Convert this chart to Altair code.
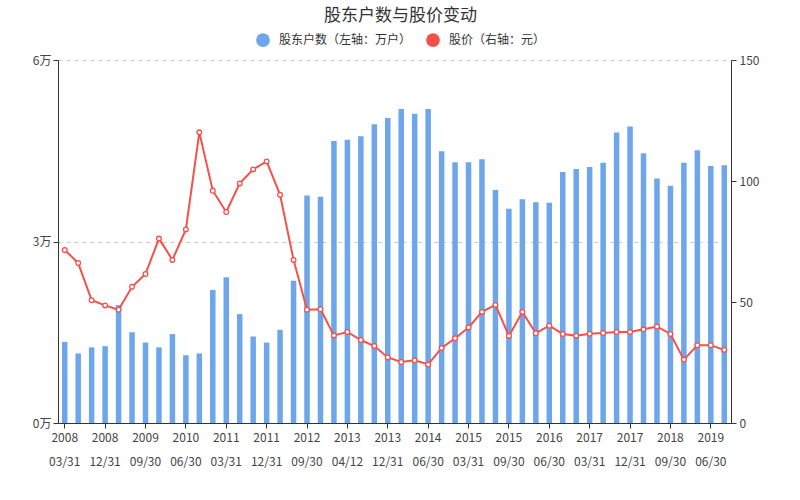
import altair as alt
import pandas as pd

dates = [
    "2008-03-31", "2008-06-30", "2008-09-30", "2008-12-31",
    "2009-03-31", "2009-06-30", "2009-09-30", "2009-12-31",
    "2010-03-31", "2010-06-30", "2010-09-30", "2010-12-31",
    "2011-03-31", "2011-06-30", "2011-09-30", "2011-12-31",
    "2012-03-31", "2012-06-30", "2012-09-30", "2012-12-31",
    "2013-03-31", "2013-04-12", "2013-06-30", "2013-09-30",
    "2013-12-31", "2014-03-31", "2014-05-31", "2014-06-30",
    "2014-09-30", "2014-12-31", "2015-03-31", "2015-06-30",
    "2015-07-31", "2015-09-30", "2015-12-31", "2016-03-31",
    "2016-06-30", "2016-09-30", "2016-12-31", "2017-03-31",
    "2017-06-30", "2017-09-30", "2017-12-31", "2018-03-31",
    "2018-06-30", "2018-09-30", "2018-12-31", "2019-03-31",
    "2019-06-30", "2019-09-30",
]

holders = [
    1.34, 1.15, 1.25, 1.27, 1.95, 1.50, 1.33, 1.25, 1.47, 1.12,
    1.15, 2.20, 2.41, 1.80, 1.43, 1.33, 1.54, 2.35, 3.76, 3.74,
    4.66, 4.68, 4.74, 4.94, 5.04, 5.19, 5.11, 5.19, 4.49, 4.31,
    4.31, 4.36, 3.85, 3.54, 3.70, 3.65, 3.64, 4.15, 4.20, 4.23,
    4.30, 4.80, 4.90, 4.46, 4.04, 3.92, 4.30, 4.51, 4.25, 4.26,
]

price = [
    71.5, 66.1, 50.7, 48.6, 46.8, 56.3, 61.6, 76.2, 67.4, 80.0,
    120.1, 96.0, 87.2, 99.0, 104.8, 108.1, 94.3, 67.4, 46.8, 47.0,
    36.2, 37.6, 34.3, 31.8, 27.1, 25.2, 25.9, 24.2, 31.0, 35.0,
    39.5, 45.9, 48.8, 36.0, 45.9, 37.1, 40.2, 36.8, 36.1, 36.9,
    37.2, 37.6, 37.6, 38.7, 39.9, 36.8, 26.2, 32.1, 32.1, 30.2,
]

series_names = ["股东户数（左轴：万户）", "股价（右轴：元）"]
colors = ["#6ea6ec", "#f5514a"]

df = pd.DataFrame({"date": dates, "holders": holders, "price": price})
df["series"] = series_names[0]

font = "Noto Sans CJK SC"
label_dates = dates[::3]

x_enc = alt.X(
    "date:N",
    sort=dates,
    scale=alt.Scale(paddingInner=0, paddingOuter=0),
    axis=alt.Axis(
        title=None,
        values=label_dates,
        labelExpr="[slice(datum.value,0,4), replace(slice(datum.value,5),'-','/')]",
        labelAngle=0,
        labelLineHeight=24,
        labelBaseline="top",
        labelPadding=4,
        tickSize=5,
        tickColor="#333",
        domainColor="#333",
        labelColor="#444",
        labelFontSize=12,
        labelFont=font,
        grid=False,
    ),
)

bars = alt.Chart(df).mark_bar(size=5.5).encode(
    x=x_enc,
    y=alt.Y(
        "holders:Q",
        scale=alt.Scale(domain=[0, 6], nice=False),
        axis=alt.Axis(
            title=None,
            values=[0, 3, 6],
            labelExpr="datum.value + '万'",
            grid=True,
            gridDash=[4, 4],
            gridColor="#cccccc",
            tickSize=5,
            tickColor="#333",
            domainColor="#333",
            labelColor="#444",
            labelFontSize=12,
            labelFont=font,
            labelPadding=2,
        ),
    ),
    color=alt.Color(
        "series:N",
        scale=alt.Scale(domain=series_names, range=colors),
        legend=alt.Legend(
            title=None,
            orient="none",
            legendX=198,
            legendY=-27,
            direction="horizontal",
            symbolType="circle",
            symbolSize=190,
            symbolStrokeWidth=0,
            labelFont=font,
            labelFontSize=12,
            labelColor="#333",
            columnPadding=14,
            labelOffset=9,
        ),
    ),
)

line = alt.Chart(df).mark_line(
    color=colors[1],
    strokeWidth=2,
    point=alt.OverlayMarkDef(filled=True, fill="white", stroke=colors[1], strokeWidth=1.3, size=22),
).encode(
    x=alt.X("date:N", sort=dates),
    y=alt.Y(
        "price:Q",
        scale=alt.Scale(domain=[0, 150], nice=False),
        axis=alt.Axis(
            title=None,
            orient="right",
            values=[0, 50, 100, 150],
            grid=False,
            tickSize=5,
            tickColor="#333",
            domainColor="#333",
            labelColor="#444",
            labelFontSize=12,
            labelFont=font,
            labelPadding=3,
        ),
    ),
)

chart = (
    alt.layer(bars, line)
    .resolve_scale(y="independent")
    .properties(
        width=673,
        height=363,
        autosize=alt.AutoSizeParams(type="none"),
        padding={"left": 58, "top": 60, "right": 69, "bottom": 77},
        title=alt.TitleParams(
            "股东户数与股价变动",
            font=font,
            fontSize=17,
            fontWeight="normal",
            color="#333",
            anchor="middle",
            offset=8,
            dx=6,
        ),
    )
    .configure_view(stroke=None)
)

chart.save("out.html", embed_options={"renderer": "svg", "actions": False})
